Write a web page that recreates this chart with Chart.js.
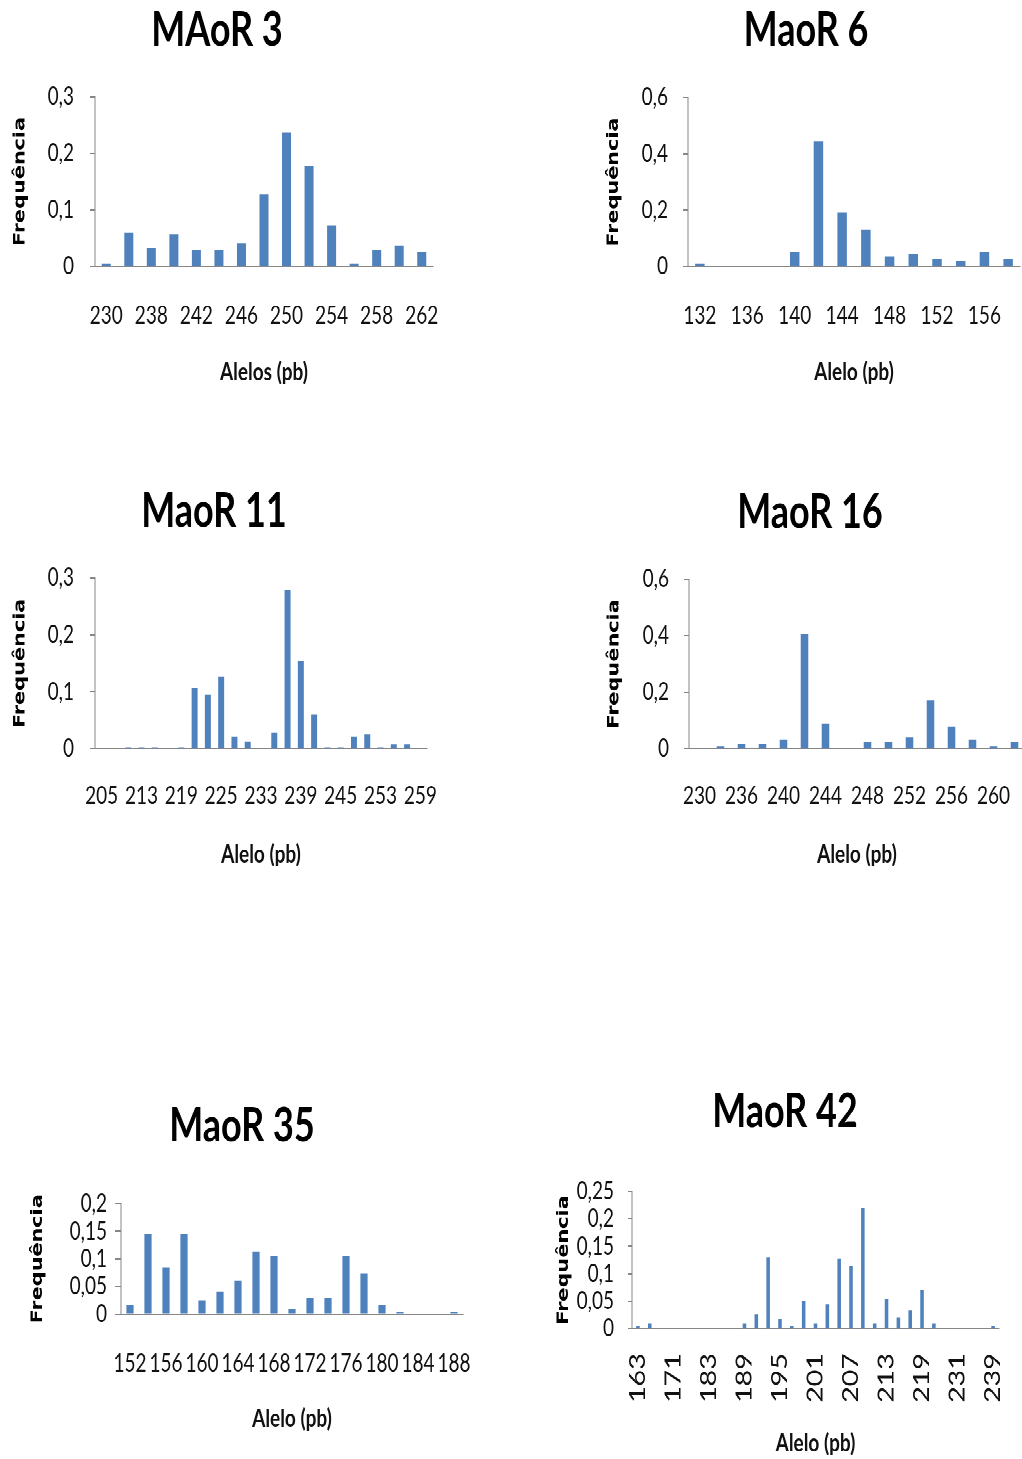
<!DOCTYPE html>
<html>
<head>
<meta charset="utf-8">
<script src="https://cdn.jsdelivr.net/npm/chart.js@4.4.1/dist/chart.umd.min.js"></script>
<style>
  html, body { margin:0; padding:0; background:#ffffff; overflow:hidden; width:1022px; height:1459px; }
  #wrap { position:absolute; left:0; top:0; width:1022px; height:1123px; transform:scaleY(1.3); transform-origin:0 0; }
  canvas { position:absolute; }
</style>
</head>
<body>
<div id="wrap"></div>
<script>
// ---------- DATA ----------
const maor3Alleles = ['230','234','238','240','242','244','246','248','250','252','254','256','258','260','262'];
const maor3Freq    = [0.005,0.060,0.033,0.057,0.029,0.029,0.041,0.127,0.237,0.177,0.073,0.005,0.029,0.037,0.026];

const maor6Alleles = ['132','134','136','138','140','142','144','146','148','150','152','154','156','158'];
const maor6Freq    = [0.010,0,0,0,0.052,0.445,0.193,0.130,0.036,0.044,0.028,0.019,0.052,0.028];

const maor11Alleles = ['205','209','211','213','215','217','219','221','223','225','227','231','233','235','237','239','241','243','245','249','251','253','255','257','259'];
const maor11Freq    = [0,0,0.003,0.003,0.003,0,0.003,0.107,0.095,0.127,0.021,0.013,0,0.029,0.278,0.154,0.060,0.003,0.003,0.021,0.026,0.003,0.008,0.008,0];

const maor16Alleles = ['230','234','236','238','240','242','244','246','248','250','252','254','256','258','260','262'];
const maor16Freq    = [0,0.009,0.017,0.017,0.033,0.405,0.088,0,0.025,0.025,0.041,0.172,0.079,0.033,0.009,0.025];

const maor35Alleles = ['152','154','156','158','160','162','164','166','168','170','172','174','176','178','180','182','184','186','188'];
const maor35Freq    = [0.017,0.145,0.085,0.145,0.025,0.041,0.061,0.113,0.105,0.009,0.029,0.029,0.105,0.073,0.017,0.003,0,0,0.003];

const maor42Alleles = ['163','165','169','171','175','177','183','185','187','189','191','193','195','197','199','201','203','205','207','209','211','213','215','217','219','221','225','231','233','237','239'];
const maor42Freq    = [0.005,0.009,0,0,0,0,0,0,0,0.009,0.026,0.130,0.018,0.005,0.050,0.009,0.045,0.127,0.114,0.219,0.009,0.054,0.021,0.033,0.071,0.009,0,0,0,0,0.005];

const chartTitles = ['MAoR 3','MaoR 6','MaoR 11','MaoR 16','MaoR 35','MaoR 42'];
const xTitles = ['Alelos (pb)','Alelo (pb)','Alelo (pb)','Alelo (pb)','Alelo (pb)','Alelo (pb)'];
const yTitle = 'Frequência';
const yMax  = [0.3, 0.6, 0.3, 0.6, 0.2, 0.25];
const yStep = [0.1, 0.2, 0.1, 0.2, 0.05, 0.05];
const labelEvery = [2, 2, 3, 2, 2, 3];

// ---------- LAYOUT (page x, unstretched y) ----------
const BLUE = '#4F81BD';
const AXIS = '#868686';
const layouts = [
  {alleles:maor3Alleles,  freq:maor3Freq,  cx:0,   tc:217, caL:95,  caR:433,  yT:20.5, titleY:23.1,  caTop:73.8,  caBot:204.6,  xLab:241.5,  xTitleY:286.2, bar:0.40, rot:0,  tl:5, yPad:16, xFont:19},
  {alleles:maor6Alleles,  freq:maor6Freq,  cx:590, tc:806, caL:688, caR:1020, yT:614,  titleY:23.1,  caTop:74.6,  caBot:204.6,  xLab:241.5,  xTitleY:286.2, bar:0.40, rot:0,  tl:5, yPad:15, xFont:19},
  {alleles:maor11Alleles, freq:maor11Freq, cx:0,   tc:214, caL:95,  caR:427,  yT:20.5, titleY:393.8, caTop:444.6, caBot:576.2,  xLab:611.5,  xTitleY:657.7, bar:0.45, rot:0,  tl:5, yPad:16, xFont:19},
  {alleles:maor16Alleles, freq:maor16Freq, cx:590, tc:810, caL:689, caR:1025, yT:614.5,titleY:394.6, caTop:445.4, caBot:576.2,  xLab:611.5,  xTitleY:657.7, bar:0.36, rot:0,  tl:5, yPad:15, xFont:19},
  {alleles:maor35Alleles, freq:maor35Freq, cx:20,  tc:242, caL:121, caR:463,  yT:38,   titleY:866.9, caTop:926.2, caBot:1011.5, xLab:1048.5, xTitleY:1092.3,bar:0.40, rot:0,  tl:6, yPad:8,  xFont:19},
  {alleles:maor42Alleles, freq:maor42Freq, cx:550, tc:785, caL:632, caR:999,  yT:564,  titleY:855.4, caTop:916.2, caBot:1021.5, xLab:1042.3, xTitleY:1110,  bar:0.30, rot:90, tl:4, yPad:14, xFont:22}
];

const TITLE_SIZE = 36, TITLE_LH = 1.2;
const TICK_SIZE = 19, XT_SIZE = 19, YT_SIZE = 16;

function fmt(v){ return String(Math.round(v*1000)/1000).replace('.', ','); }

layouts.forEach((L, i) => {
  const cx = Math.min(L.cx, 2*L.tc - L.caR - 22);
  const W = 2 * (L.tc - cx);
  const ct = L.titleY - 24.6;
  const H = L.xTitleY + XT_SIZE*1.2/2 - ct;
  const spacer = Math.max(cx + W - L.caR, 0);
  const titleLH = TITLE_SIZE * TITLE_LH;
  const titlePadTop = L.titleY - ct - titleLH/2;
  const titlePadBot = L.caTop - L.titleY - titleLH/2;
  const xH = ct + H - L.caBot;
  const yW = L.caL - cx;
  const yTitlePad = L.yT - cx - YT_SIZE*1.2/2;
  const xTickPad = L.rot ? (L.xLab - L.caBot - 10) : (L.xLab - L.caBot - L.xFont*1.2/2 - 7);

  const cv = document.createElement('canvas');
  cv.width = W; cv.height = Math.round(H);
  cv.style.left = cx + 'px';
  cv.style.top = ct + 'px';
  document.getElementById('wrap').appendChild(cv);

  const every = labelEvery[i];
  new Chart(cv, {
    type: 'bar',
    data: {
      labels: L.alleles,
      datasets: [{ data: L.freq, backgroundColor: BLUE, borderWidth: 0,
                   categoryPercentage: 1.0, barPercentage: L.bar }]
    },
    options: {
      responsive: false, animation: false, devicePixelRatio: 2,
      layout: { padding: 0 },
      plugins: {
        legend: { display: false }, tooltip: { enabled: false },
        title: { display: true, text: chartTitles[i], color: '#000',
                 font: { family: 'Lato', weight: 'bold', size: TITLE_SIZE, lineHeight: TITLE_LH },
                 padding: { top: titlePadTop, bottom: titlePadBot } }
      },
      scales: {
        x: {
          offset: true,
          grid: { display: false },
          border: { display: true, color: AXIS, width: 1 },
          ticks: {
            autoSkip: false, maxRotation: L.rot, minRotation: L.rot, padding: xTickPad,
            color: '#111', font: { family: 'Lato', size: L.xFont },
            callback: (v, idx) => (idx % every === 0 ? L.alleles[idx] : '')
          },
          title: { display: true, text: xTitles[i], color: '#111', padding: 0,
                   font: { family: 'Lato', weight: 'bold', size: XT_SIZE, lineHeight: 1.2 } },
          afterFit: (s) => { s.height = xH; s.paddingLeft = 0; s.paddingRight = 0; }
        },
        y: {
          min: 0, max: yMax[i],
          grid: { display: true, drawOnChartArea: false, drawTicks: true, tickLength: L.tl, color: AXIS },
          border: { display: true, color: AXIS, width: 1 },
          ticks: { stepSize: yStep[i], autoSkip: false, padding: L.yPad, color: '#111',
                   font: { family: 'Lato', size: TICK_SIZE }, callback: (v) => fmt(v) },
          title: { display: true, text: yTitle, color: '#000', padding: { top: yTitlePad, bottom: 0 },
                   font: { family: 'DejaVu Sans', weight: 'bold', size: YT_SIZE, lineHeight: 1.2 } },
          afterFit: (s) => { s.width = yW; s.paddingTop = 0; s.paddingBottom = 0; }
        },
        spacer: {
          type: 'linear', position: 'right', display: true,
          grid: { display: false }, border: { display: false }, ticks: { display: false },
          afterFit: (s) => { s.width = spacer; }
        }
      }
    }
  });
});
</script>
</body>
</html>
